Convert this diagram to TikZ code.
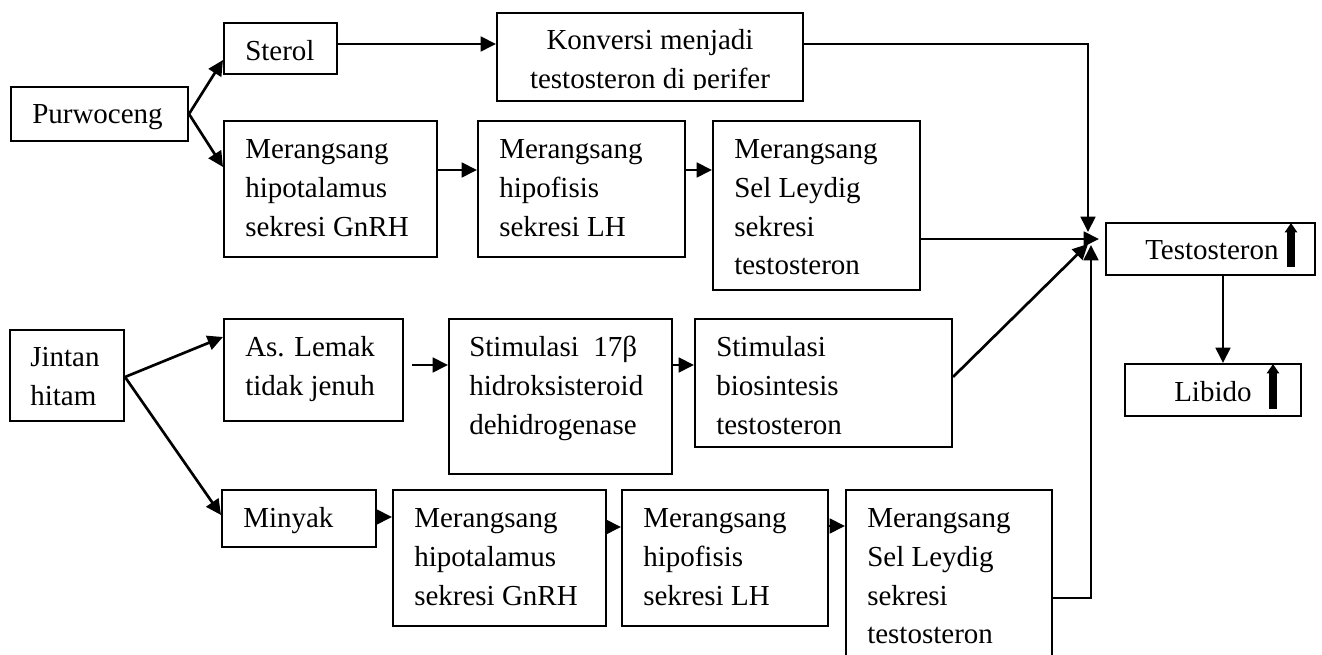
\documentclass[tikz,border=0pt]{standalone}
\usepackage{fontspec}
\setmainfont{Liberation Serif}
\usetikzlibrary{arrows.meta,fit}
\newcommand\mybx[5]{%
  \coordinate (#1-a) at (#2,#3);
  \coordinate (#1-b) at (#4,#5);
  \node[box, fit=(#1-a)(#1-b)] (#1) {};}
\begin{document}
\begin{tikzpicture}[x=0.75pt,y=-0.75pt,
  box/.style={draw, line width=1.5pt, inner sep=0pt},
  txt/.style={inner sep=0pt, anchor=base west, font=\fontsize{21.75pt}{28.9pt}\selectfont},
  conn/.style={line width=2pt, -{Triangle[length=11.5pt,width=11pt]}},
  up/.style={line width=5.5pt, -{Triangle[length=7pt,width=9pt]}}]
\useasboundingbox (0,0) rectangle (1322,655);

% ---------- text ----------
\node[txt] (purw-t) at (32,124) {Purwoceng};
\node[txt] (sterol-t) at (245,61) {Sterol};
\node[txt, anchor=base] (konv-t) at (650,50) {\begin{tabular}[t]{@{}c@{}}Konversi menjadi\\testosteron di perifer\end{tabular}};
\fill[white] (499,90) rectangle (801,100);
\node[txt] (hyp1-t) at (245,159) {\begin{tabular}[t]{@{}l@{}}Merangsang\\hipotalamus\\sekresi GnRH\end{tabular}};
\node[txt] (hpf1-t) at (499,159) {\begin{tabular}[t]{@{}l@{}}Merangsang\\hipofisis\\sekresi LH\end{tabular}};
\node[txt] (ley1-t) at (734,159) {\begin{tabular}[t]{@{}l@{}}Merangsang\\Sel Leydig\\sekresi\\testosteron\end{tabular}};
\node[txt] (test-t) at (1145,260) {Testosteron};
\node[txt] (lib-t) at (1174,402) {Libido};
\node[txt] (jin-t) at (30,367) {\begin{tabular}[t]{@{}l@{}}Jintan\\hitam\end{tabular}};
\node[txt] (lemak-t) at (245,357) {\begin{tabular}[t]{@{}l@{}}As. Lemak\\tidak jenuh\end{tabular}};
\node[txt] (stim-t) at (469,357) {\begin{tabular}[t]{@{}l@{}}Stimulasi~~17β\\hidroksisteroid\\dehidrogenase\end{tabular}};
\node[txt] (bios-t) at (716,357) {\begin{tabular}[t]{@{}l@{}}Stimulasi\\biosintesis\\testosteron\end{tabular}};
\node[txt] (minyak-t) at (243,528) {Minyak};
\node[txt] (hyp2-t) at (414,528) {\begin{tabular}[t]{@{}l@{}}Merangsang\\hipotalamus\\sekresi GnRH\end{tabular}};
\node[txt] (hpf2-t) at (643,528) {\begin{tabular}[t]{@{}l@{}}Merangsang\\hipofisis\\sekresi LH\end{tabular}};
\node[txt] (ley2-t) at (867,528) {\begin{tabular}[t]{@{}l@{}}Merangsang\\Sel Leydig\\sekresi\\testosteron\end{tabular}};

% ---------- boxes ----------
\mybx{purw}{11}{87}{188}{141}
\mybx{sterol}{224}{23}{337}{74}
\mybx{konv}{497}{13}{803}{101}
\mybx{hyp1}{224}{121}{437}{257}
\mybx{hpf1}{478}{121}{685}{257}
\mybx{ley1}{713}{121}{920}{290}
\mybx{test}{1106}{223}{1315}{275}
\mybx{lib}{1125}{364}{1301}{416}
\mybx{jin}{10}{330}{124}{421}
\mybx{lemak}{224}{319}{403}{421}
\mybx{stim}{449}{319}{672}{474}
\mybx{bios}{695}{319}{952}{447}
\mybx{minyak}{222}{490}{376}{547}
\mybx{hyp2}{393}{490}{606}{626}
\mybx{hpf2}{622}{490}{828}{626}
\mybx{ley2}{846}{490}{1052}{690}

% ---------- junction end points ----------
\coordinate (jtop) at (1088,232);
\coordinate (jright) at (1099,239);
\coordinate (jdiag) at (1088,244);
\coordinate (jbot) at (1091,245);
\coordinate (lemakout) at (412,365);

% ---------- connectors ----------
\draw[conn] (purw.east) -- (sterol.west |- 0,60);
\draw[conn] (purw.east) -- (hyp1.west |- 0,167);
\draw[conn] (sterol.east |- 0,44) -- (konv.west |- 0,44);
\draw[conn] (konv.east |- 0,44) -| (jtop);
\draw[conn] (hyp1.east |- 0,170) -- (hpf1.west |- 0,170);
\draw[conn] (hpf1.east |- 0,170) -- (ley1.west |- 0,170);
\draw[conn] (ley1.east |- 0,239) -- (jright);

\draw[conn] (jin.east |- 0,377) -- (lemak.west |- 0,337);
\draw[conn] (jin.east |- 0,377) -- (minyak.west |- 0,515);
\draw[conn] (lemakout) -- (stim.west |- 0,365);
\draw[conn] (stim.east |- 0,365) -- (bios.west |- 0,365);
\draw[conn] (bios.east |- 0,377) -- (jdiag);
\draw[conn] (minyak.east |- 0,517) -- (hyp2.west |- 0,517);
\draw[conn] (hyp2.east |- 0,527) -- (hpf2.west |- 0,527);
\draw[conn] (hpf2.east |- 0,526) -- (ley2.west |- 0,526);
\draw[conn] (ley2.east |- 0,598) -| (jbot);

\draw[conn] (test.south -| 1223,0) -- (lib.north -| 1223,0);

% ---------- up arrows ----------
\draw[up] (1291,267) -- (1291,223);
\draw[up] (1273,409) -- (1273,364);
\end{tikzpicture}
\end{document}
